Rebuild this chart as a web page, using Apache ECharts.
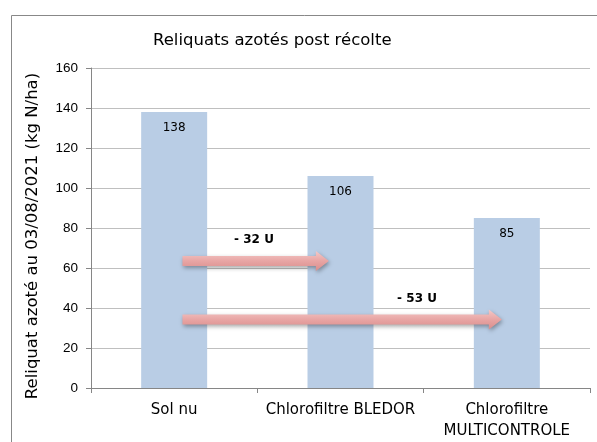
<!DOCTYPE html>
<html><head><meta charset="utf-8">
<script src="https://cdn.jsdelivr.net/npm/echarts@6/dist/echarts.min.js"></script>
<style>html,body{margin:0;padding:0;background:#fff}#c{width:597px;height:442px}</style>
</head><body><div id="c"></div>
<script>
const categories = ['Sol nu', 'Chlorofiltre BLEDOR', 'Chlorofiltre\nMULTICONTROLE'];
const values = [138, 106, 85];
const yTicks = [0, 20, 40, 60, 80, 100, 120, 140, 160];
// arrow annotations (category-index units and axis values)
const arrowStart = [0.05, 0.05];
const arrowEnd = [0.93, 1.97];
const arrowY = [63.5, 34.3];
const arrowLabels = ['- 32 U', '- 53 U'];
const labelX = [0.48, 1.46];
const labelY = [74, 44.5];

const chart = echarts.init(document.getElementById('c'));
const arrowData = arrowStart.map((s, i) => [s, arrowEnd[i], arrowY[i], labelX[i], labelY[i], i]);
chart.setOption({
  animation: false,
  backgroundColor: '#fff',
  title: {
    text: 'Reliquats azotés post récolte',
    left: 153, top: 32, padding: 0,
    textStyle: {fontFamily: 'DejaVu Sans', fontSize: 16.5, fontWeight: 'normal', color: '#000'}
  },
  graphic: [{type: 'rect', left: 9, top: 13, shape: {width: 600, height: 450}, style: {fill: 'none', stroke: '#888', lineWidth: 1}, silent: true}],
  grid: {left: 91, right: 7, top: 68, bottom: 52},
  xAxis: [{
    type: 'category', data: categories,
    axisLine: {lineStyle: {color: '#868686'}},
    axisTick: {show: true, length: 5, lineStyle: {color: '#868686'}},
    axisLabel: {fontFamily: 'DejaVu Sans', fontSize: 15, color: '#000', margin: 12, lineHeight: 21, interval: 0}
  }, {
    type: 'value', min: -0.5, max: 2.5, show: false
  }],
  yAxis: {
    type: 'value', min: 0, max: 160, interval: 20,
    name: 'Reliquat azoté au 03/08/2021 (kg N/ha)',
    nameLocation: 'middle', nameGap: 50,
    nameTextStyle: {fontFamily: 'DejaVu Sans', fontSize: 16.5, color: '#000', padding: [0, 16, 0, 0]},
    axisLine: {show: true, onZero: false, lineStyle: {color: '#868686'}},
    axisTick: {show: true, length: 5, lineStyle: {color: '#868686'}},
    axisLabel: {fontFamily: 'Liberation Sans', fontSize: 13.5, color: '#000', margin: 13,
      formatter: v => yTicks.includes(v) ? String(v) : ''},
    splitLine: {lineStyle: {color: '#bfbfbf'}}
  },
  series: [{
    type: 'bar', data: values, barWidth: 66,
    itemStyle: {color: '#b9cde5'},
    label: {show: true, position: 'insideTop', distance: 10, fontFamily: 'DejaVu Sans', fontSize: 12, color: '#000'}
  }, {
    type: 'custom', xAxisIndex: 1, data: arrowData, z: 10,
    renderItem: function (params, api) {
      const p0 = api.coord([api.value(0), api.value(2)]);
      const p1 = api.coord([api.value(1), api.value(2)]);
      const lp = api.coord([api.value(3), api.value(4)]);
      const hs = 5, hh = 10, hl = 13;
      const x0 = p0[0], x1 = p1[0], y = p0[1];
      return {
        type: 'group',
        children: [{
          type: 'polygon',
          shape: {points: [[x0, y - hs], [x1 - hl, y - hs], [x1 - hl, y - hh], [x1, y], [x1 - hl, y + hh], [x1 - hl, y + hs], [x0, y + hs]]},
          style: {
            fill: new echarts.graphic.LinearGradient(0, 0, 0, 1, [
              {offset: 0, color: '#f4c9c8'}, {offset: 0.5, color: '#e8a5a4'}, {offset: 1, color: '#d98e8d'}
            ]),
            shadowBlur: 4, shadowOffsetY: 2, shadowOffsetX: 1, shadowColor: 'rgba(0,0,0,0.35)'
          }
        }, {
          type: 'text',
          style: {text: arrowLabels[api.value(5)], x: lp[0], y: lp[1], align: 'center', verticalAlign: 'middle',
            font: 'bold 12px "DejaVu Sans"', fill: '#000'}
        }]
      };
    }
  }]
});
</script></body></html>
